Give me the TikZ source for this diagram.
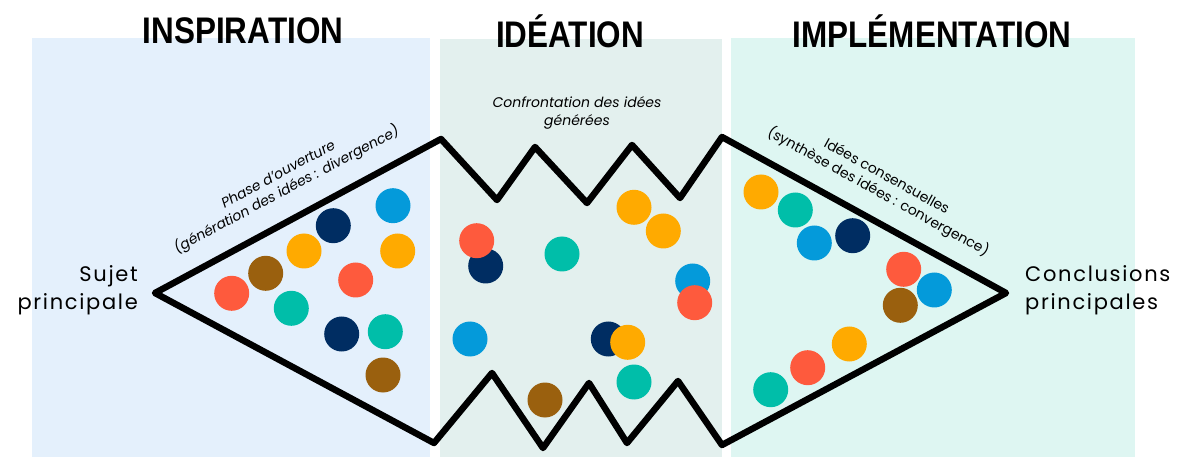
\documentclass[tikz,border=0pt]{standalone}
\usepackage{fontspec}
\setmainfont{Poppins}
\newfontfamily\titlefont{Liberation Sans}
\usetikzlibrary{calc}
\definecolor{pblue}{HTML}{E4F0FC}
\definecolor{pidea}{HTML}{E3F0EE}
\definecolor{pimpl}{HTML}{DEF6F2}
\definecolor{cred}{HTML}{FE5A3D}
\definecolor{cbrown}{HTML}{9A600E}
\definecolor{corange}{HTML}{FFAA00}
\definecolor{cnavy}{HTML}{002D62}
\definecolor{cblue}{HTML}{049ADA}
\definecolor{cteal}{HTML}{00BEA9}
\tikzset{
  title/.style={font=\titlefont\bfseries\fontsize{37}{37}\selectfont, inner sep=0pt},
  side/.style={font=\fontsize{21}{28}\selectfont, inner sep=0pt},
  note/.style={font=\fontsize{14}{17.5}\selectfont, inner sep=0pt, align=center},
  outline/.style={line width=6.5pt, line join=round, line cap=round}
}
\newcommand{\dotat}[3]{\fill[#1] (#2,#3) circle (17.5);}
\begin{document}
\begin{tikzpicture}[x=1pt,y=-1pt]
\useasboundingbox (0,0) rectangle (1179,457);
\fill[white] (0,0) rectangle (1179,457);
% panels
\fill[pblue] (32,38) rectangle (430,457);
\fill[pidea] (440,39) rectangle (722,457);
\fill[pimpl] (731,38) rectangle (1135,457);
% titles
\node[title] (t1) at (243,31) {\scalebox{0.85}[1]{INSPIRATION}};
\node[title] (t2) at (570,31) {\scalebox{0.85}[1]{IDÉATION}};
\node[title] (t3) at (932,31) {\scalebox{0.85}[1]{IMPLÉMENTATION}};
% outline
\coordinate (L) at (155,293);
\coordinate (R) at (1006,293);
\draw[outline] (L) -- (441,139) -- (497,200) -- (535,147) -- (587,203) -- (632,145) -- (680,198) -- (722,137) -- (R)
  -- (722,445) -- (678,381) -- (627,443) -- (589,383) -- (543,448) -- (492,373) -- (434,443) -- cycle;
% dots inspiration
\dotat{cred}{231.7}{293.3}
\dotat{cbrown}{265.7}{273.3}
\dotat{corange}{304}{251}
\dotat{cnavy}{333.3}{225.7}
\dotat{cblue}{393}{205.7}
\dotat{corange}{397.7}{251}
\dotat{cred}{355.7}{280}
\dotat{cteal}{291.3}{308.3}
\dotat{cnavy}{341.7}{334}
\dotat{cteal}{385.3}{331.7}
\dotat{cbrown}{383}{375}
% dots ideation
\dotat{corange}{634}{207.3}
\dotat{corange}{663.3}{231}
\dotat{cnavy}{485.7}{266}
\dotat{cred}{476.7}{240.7}
\dotat{cteal}{562}{254}
\dotat{cblue}{692.7}{281}
\dotat{cred}{694.7}{302.7}
\dotat{cblue}{470}{339}
\dotat{cnavy}{608.3}{339}
\dotat{corange}{627.7}{342.3}
\dotat{cteal}{634}{382}
\dotat{cbrown}{545}{400}
% dots implementation
\dotat{corange}{761}{192}
\dotat{cteal}{795.3}{210}
\dotat{cblue}{814.3}{243}
\dotat{cnavy}{852.7}{235.7}
\dotat{cred}{903.7}{269.3}
\dotat{cblue}{934.3}{290}
\dotat{cbrown}{900.3}{305.3}
\dotat{corange}{849.3}{344}
\dotat{cred}{807.7}{367.7}
\dotat{cteal}{770.7}{389.7}
% side labels
\node[side, anchor=east, align=right] (sujet) at (138,290) {\addfontfeatures{LetterSpace=8}Sujet\\\addfontfeatures{LetterSpace=8}principale};
\node[side, anchor=west, align=left] (concl) at (1025,290) {\addfontfeatures{LetterSpace=8}Conclusions\\\addfontfeatures{LetterSpace=8}principales};
% notes
\node[note, rotate=28.2] (phase) at (283,183) {\itshape Phase d’ouverture\\\itshape (génération des idées : divergence)};
\node[note] (conf) at (577,113) {\itshape Confrontation des idées\\\itshape générées};
\node[note, rotate=-28.9] (idees) at (882,185) {Idées consensuelles\\(synthèse des idées : convergence)};
\end{tikzpicture}
\end{document}
